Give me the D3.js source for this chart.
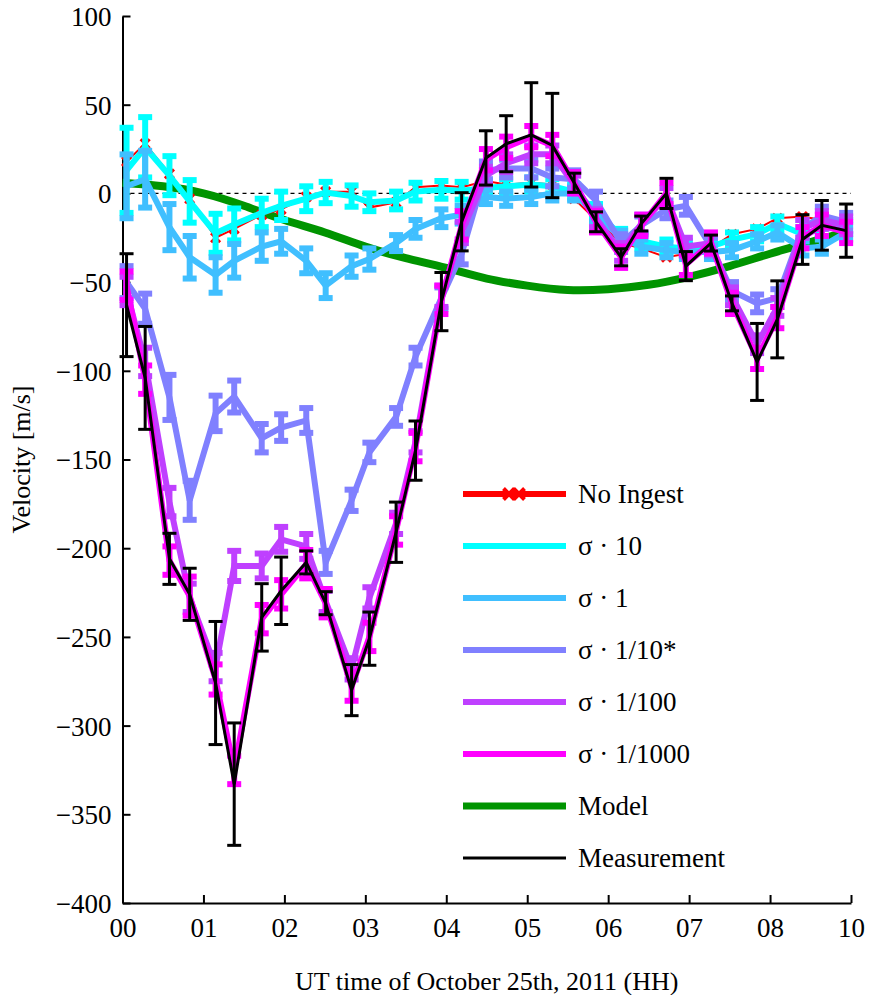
<!DOCTYPE html>
<html>
<head>
<meta charset="utf-8">
<script src="https://cdn.jsdelivr.net/npm/d3@7"></script>
<style>
  html, body { margin: 0; padding: 0; background: #fff; }
</style>
</head>
<body>
<div id="chart"></div>
<script>
// sample times (hours after 00 UT, in tick units)
const hours = [0.05, 0.28, 0.58, 0.83, 1.15, 1.38, 1.72, 1.96, 2.27, 2.51, 2.83, 3.05, 3.38, 3.62, 3.94, 4.19,
  4.49, 4.74, 5.05, 5.31, 5.58, 5.85, 6.16, 6.41, 6.72, 6.96, 7.27, 7.53, 7.84, 8.09, 8.40, 8.64, 8.94];

const noIngest = [18, 28, 11, -3, -25, -20, -12, -9, -2, 1, 1, -8, -5, 3.5, 4.5, 3.5,
  7, 5, 6, 5, -3, -15, -28, -31, -36, -34, -31, -23, -20, -14, -13, -15, -19];

const sig10 = [13, 26, 10, -4.5, -22.5, -17.5, -11, -7, -3, 0.5, -1.5, -5, -4, 1, 2, 1.5,
  3, 4, 5, 4, 1, -10, -24, -27, -30, -31, -30, -26, -23, -17, -23, -20, -19];
const sig10Err = [24, 17, 11, 12, 11, 9, 8, 8, 7, 6, 6, 5, 5, 5, 5, 5,
  4, 4, 4, 4, 4, 4, 4, 4, 4, 4, 4, 4, 4, 4, 4, 4, 4];

const sig1 = [4, 8, -19, -36, -46, -38, -30, -27, -38, -52, -41, -37, -28, -20, -14, -12,
  -2, -3, -2, 0, 0, -12, -25, -30, -32, -33, -33, -32, -27, -22, -31, -30, -22];
const sig1Err = [18, 16, 13, 12, 10, 9.5, 8, 7, 7, 7, 6, 6, 4.5, 5, 5, 5,
  4, 4, 4, 4, 4, 4, 4, 4, 4, 4, 4, 4, 4, 4, 4, 4, 4];

const sigTenth = [-50, -65, -115, -173, -124, -114.5, -138, -132, -128, -208, -173, -146, -126, -92, -59, -34,
  13, 14, 14, 9, 8, -4, -28, -18, -9, -7, -30, -55, -62, -59, -20, -12.5, -16];
const sigTenthErr = [9, 8.5, 12.7, 11, 10, 9, 8, 7.5, 7, 6.5, 6, 5.5, 5, 5, 6, 6,
  5, 5, 5, 5, 5, 5, 5, 5, 5, 5, 5, 5, 5, 5, 5, 5, 5];

const sigHundredth = [-55, -95, -174, -228, -267, -210, -210, -195, -199, -230, -268, -228, -186, -140, -58, -22,
  10, 17, 22, 22, 5, -14, -33, -17, -2, -30, -28, -58, -85, -64, -20, -15, -18];
const sigHundredthErr = [8, 8, 8, 8, 8, 8.5, 7, 7, 7, 6, 6, 6, 6, 6, 6, 6,
  5, 5, 5, 5, 5, 5, 5, 5, 5, 5, 5, 5, 5, 5, 5, 5, 5];

const sigThousandth = [-52, -105, -207, -227, -274, -325, -240, -226, -209, -231, -278, -250, -190, -143, -60, -18,
  19, 26, 32, 27, 6, -16, -36, -18, 0, -40, -28, -62, -93, -70, -25, -18, -22];
const sigThousandthErr = [8, 8, 8, 11, 8.5, 8, 8, 8, 8, 8, 8, 8, 8, 8, 8, 8,
  6, 6, 6, 6, 6, 6, 6, 6, 6, 6, 6, 6, 6, 6, 6, 6, 6];

const measured = [-63, -104, -206, -226, -276, -333, -239, -224, -208, -231, -280, -251, -191, -145, -61, -16,
  20, 28, 33, 27, 6, -16, -36, -17, 0, -41, -28, -62, -95, -71, -26, -18, -21];
const measuredErr = [29, 29, 14.4, 14.7, 34.7, 34.5, 19, 19, 6.5, 6.5, 14.4, 15, 17, 16.7, 16.4, 16.4,
  15.3, 15.8, 29.4, 29.4, 5.4, 5.6, 4.8, 4.2, 8.5, 8.2, 4.5, 4.2, 21.7, 21.7, 14, 14, 15];

// model curve read at half-hour steps
const modelHours = [0, 0.5, 1, 1.5, 2, 2.5, 3, 3.5, 4, 4.5, 5, 5.5, 6, 6.5, 7, 7.5, 8, 8.5, 9];
const modelVel = [6, 4, 0, -7, -15, -22, -30, -36.5, -42, -48, -52, -54.5, -54, -51.5, -47, -41, -34, -27.5, -21];

const xTicks = [0, 1, 2, 3, 4, 5, 6, 7, 8, 9];
const xTickLabels = ["00", "01", "02", "03", "04", "05", "06", "07", "08", "10"];
const yTicks = [100, 50, 0, -50, -100, -150, -200, -250, -300, -350, -400];

const legendNames = ["No Ingest", "σ · 10", "σ · 1", "σ · 1/10*", "σ · 1/100", "σ · 1/1000", "Model", "Measurement"];
const legendColors = ["#ff0000", "#00ffff", "#40bfff", "#8080ff", "#bf40ff", "#ff00ff", "#009400", "#000000"];

const SERIF = '"Liberation Serif", "Times New Roman", serif';
const W = 869, H = 995;
const margin = { top: 16, right: 18, bottom: 92, left: 122.5 };

const svg = d3.select("#chart").append("svg")
  .attr("width", W)
  .attr("height", H)
  .style("font-family", SERIF);

const x = d3.scaleLinear().domain([0, 9]).range([margin.left, W - margin.right]);
const y = d3.scaleLinear().domain([-400, 100]).range([H - margin.bottom, margin.top]);

const fmt = (v) => String(v).replace("-", "\u2212");

// axes: MATLAB style, ticks inside, no box
const yAxis = svg.append("g")
  .attr("transform", `translate(${margin.left},0)`)
  .call(d3.axisLeft(y).tickValues(yTicks).tickFormat(fmt).tickSizeInner(-8).tickSizeOuter(0).tickPadding(11));
const xAxis = svg.append("g")
  .attr("transform", `translate(0,${H - margin.bottom})`)
  .call(d3.axisBottom(x).tickValues(xTicks).tickFormat((d, i) => xTickLabels[i]).tickSizeInner(-8).tickSizeOuter(0).tickPadding(14));
for (const ax of [xAxis, yAxis]) {
  ax.attr("font-family", null).attr("font-size", null);
  ax.select(".domain").attr("stroke", "#000").attr("stroke-width", 2);
  ax.selectAll(".tick line").attr("stroke", "#000").attr("stroke-width", 2);
  ax.selectAll(".tick text")
    .attr("fill", "#000")
    .style("font-family", SERIF)
    .style("font-size", "27px");
}
yAxis.selectAll(".tick text").attr("dy", "0.35em");
xAxis.selectAll(".tick text").attr("dy", "0.75em");

svg.append("text")
  .attr("transform", `translate(30,${(margin.top + H - margin.bottom) / 2}) rotate(-90)`)
  .attr("text-anchor", "middle")
  .style("font-size", "26px")
  .text("Velocity [m/s]");

svg.append("text")
  .attr("x", (margin.left + W - margin.right) / 2)
  .attr("y", 990)
  .attr("text-anchor", "middle")
  .style("font-size", "26px")
  .text("UT time of October 25th, 2011 (HH)");

// zero reference
svg.append("line")
  .attr("x1", x(0)).attr("x2", x(9))
  .attr("y1", y(0)).attr("y2", y(0))
  .attr("stroke", "#000").attr("stroke-width", 1.3)
  .attr("stroke-dasharray", "4,4");

const line = d3.line().x((d) => x(d[0])).y((d) => y(d[1]));

// model
svg.append("path")
  .datum(modelHours.map((h, i) => [h, modelVel[i]]))
  .attr("fill", "none")
  .attr("stroke", "#009400")
  .attr("stroke-width", 8)
  .attr("d", d3.line().x((d) => x(d[0])).y((d) => y(d[1])).curve(d3.curveNatural));

// no ingest: thin red with x markers
const red = svg.append("g");
red.append("path")
  .datum(hours.map((h, i) => [h, noIngest[i]]))
  .attr("fill", "none").attr("stroke", "#ff0000").attr("stroke-width", 2)
  .attr("d", line);
const xMark = (s) => `M${-s},${-s}L${s},${s}M${-s},${s}L${s},${-s}`;
red.selectAll("path.mk")
  .data(hours.map((h, i) => [h, noIngest[i]]))
  .join("path")
  .attr("class", "mk")
  .attr("transform", (d) => `translate(${x(d[0])},${y(d[1])})`)
  .attr("d", xMark(4.5))
  .attr("stroke", "#ff0000").attr("stroke-width", 3).attr("fill", "none");

function errSeries(vals, errs, color, lw, capW) {
  const g = svg.append("g");
  const pts = hours.map((h, i) => ({ h, v: vals[i], e: errs[i] }));
  g.append("path")
    .datum(pts.map((p) => [p.h, p.v]))
    .attr("fill", "none").attr("stroke", color).attr("stroke-width", lw)
    .attr("stroke-linejoin", "miter")
    .attr("d", line);
  const bar = g.selectAll("g.eb").data(pts).join("g").attr("class", "eb");
  bar.append("line")
    .attr("x1", (d) => x(d.h)).attr("x2", (d) => x(d.h))
    .attr("y1", (d) => y(d.v - d.e)).attr("y2", (d) => y(d.v + d.e))
    .attr("stroke", color).attr("stroke-width", lw);
  for (const sgn of [-1, 1]) {
    bar.append("line")
      .attr("x1", (d) => x(d.h) - capW / 2).attr("x2", (d) => x(d.h) + capW / 2)
      .attr("y1", (d) => y(d.v + sgn * d.e)).attr("y2", (d) => y(d.v + sgn * d.e))
      .attr("stroke", color).attr("stroke-width", lw);
  }
}

errSeries(sig10, sig10Err, "#00ffff", 6, 14);
errSeries(sig1, sig1Err, "#40bfff", 6, 14);
errSeries(sigTenth, sigTenthErr, "#8080ff", 6, 14);
errSeries(sigHundredth, sigHundredthErr, "#bf40ff", 6, 14);
errSeries(sigThousandth, sigThousandthErr, "#ff00ff", 6, 14);
errSeries(measured, measuredErr, "#000000", 3, 14);

// legend
const leg = svg.append("g");
const rowY = (i) => 494 + i * 52;
legendNames.forEach((name, i) => {
  const lw = i === 7 ? 3 : (i === 6 ? 7 : 6);
  leg.append("line")
    .attr("x1", 463).attr("x2", 566)
    .attr("y1", rowY(i)).attr("y2", rowY(i))
    .attr("stroke", legendColors[i]).attr("stroke-width", lw);
  leg.append("text")
    .attr("x", 578).attr("y", rowY(i))
    .attr("dy", "0.35em")
    .style("font-size", "27px")
    .text(name);
});
[509, 519].forEach((cx) => {
  leg.append("path")
    .attr("transform", `translate(${cx},${rowY(0)})`)
    .attr("d", xMark(5.5))
    .attr("stroke", "#ff0000").attr("stroke-width", 4).attr("fill", "none");
});
</script>
</body>
</html>
